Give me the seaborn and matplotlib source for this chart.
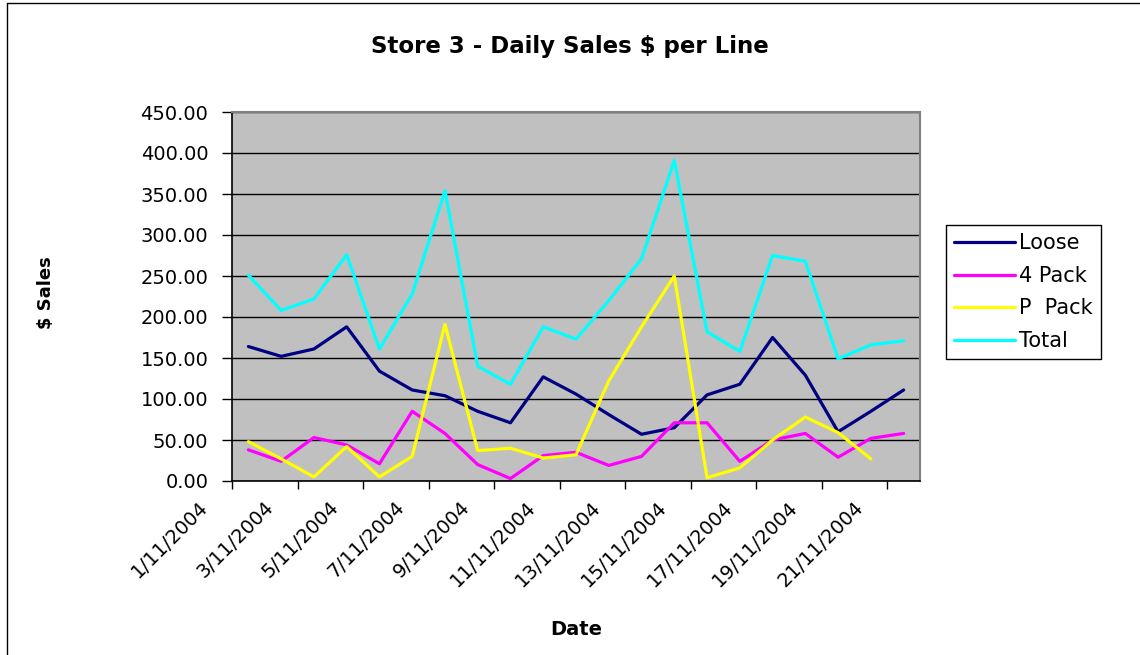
import numpy as np
import pandas as pd
import matplotlib
matplotlib.use("Agg")
import matplotlib.pyplot as plt
import matplotlib.transforms as mtransforms
from matplotlib.lines import Line2D
import seaborn as sns

# daily sales for store 3, November 2004
dates = ["%d/11/2004" % d for d in range(1, 22)]
loose = [164, 152, 161, 188, 134, 111, 104, 85, 71, 127, 106, 81, 57, 65, 105, 118, 175, 129, 60, 85, 111]
four_pack = [38, 24, 53, 44, 21, 85, 58, 20, 3, 31, 35, 19, 30, 71, 71, 24, 50, 58, 29, 52, 58]
p_pack = [48, 27, 5, 42, 5, 30, 191, 37, 40, 28, 32, 122, 188, 250, 4, 16, 50, 78, 59, 27, np.nan]
total = [251, 208, 222, 276, 161, 228, 354, 140, 118, 188, 173, 220, 271, 391, 182, 158, 275, 268, 149, 166, 171]

series_names = ["Loose", "4 Pack", "P  Pack", "Total"]
line_colors = ["#000080", "#FF00FF", "#FFFF00", "#00FFFF"]
y_ticks = [0, 50, 100, 150, 200, 250, 300, 350, 400, 450]


def main():
    rows = []
    for name, vals in zip(series_names, [loose, four_pack, p_pack, total]):
        for i, v in enumerate(vals):
            rows.append({"day": i, "date": dates[i], "series": name, "sales": v})
    df = pd.DataFrame(rows).dropna()

    sns.set_style("ticks")
    plt.rcParams["font.family"] = ["DejaVu Sans"]
    plt.rcParams["text.color"] = "black"
    plt.rcParams["axes.labelcolor"] = "black"
    plt.rcParams["xtick.color"] = "black"
    plt.rcParams["ytick.color"] = "black"

    W, H = 1140, 655
    fig = plt.figure(figsize=(W / 100, H / 100), dpi=100)
    ax = fig.add_axes([232 / W, 1 - 481 / H, (920 - 232) / W, (481 - 112) / H])
    ax.set_facecolor("#C0C0C0")

    sns.lineplot(data=df, x="day", y="sales", hue="series", hue_order=series_names,
                 palette=dict(zip(series_names, line_colors)), estimator=None,
                 errorbar=None, linewidth=2.3, ax=ax)

    # axes limits and ticks, excel style
    ax.set_xlim(-0.5, len(dates) - 0.5)
    ax.set_ylim(0, 450)
    ax.set_yticks(y_ticks)
    ax.set_yticklabels(["%.2f" % t for t in y_ticks], fontsize=14)
    ax.tick_params(axis="y", direction="out", length=7, width=1, color="black", pad=10)

    ax.set_xticks(np.arange(-0.5, len(dates) - 1, 2))
    ax.set_xticklabels([])
    ax.tick_params(axis="x", which="major", direction="out", length=6, width=1, color="black")
    ax.set_xticks(np.arange(0, len(dates), 2), minor=True)
    ax.set_xticklabels(dates[::2], minor=True, rotation=45, ha="right",
                       rotation_mode="anchor", fontsize=14)
    ax.tick_params(axis="x", which="minor", length=0, pad=12)
    shift = mtransforms.ScaledTranslation(-0.5, 0, fig.dpi_scale_trans)
    for lbl in ax.get_xticklabels(minor=True):
        lbl.set_transform(lbl.get_transform() + shift)

    ax.yaxis.grid(True, color="black", linewidth=1)
    ax.xaxis.grid(False)
    for side in ["top", "right"]:
        ax.spines[side].set_color("#808080")
        ax.spines[side].set_linewidth(1.5)
    for side in ["left", "bottom"]:
        ax.spines[side].set_color("black")
        ax.spines[side].set_linewidth(1.2)

    ax.set_xlabel("Date", fontsize=14, fontweight="bold")
    ax.xaxis.set_label_coords(0.5, -0.377)
    ax.set_ylabel("$ Sales", fontsize=13, fontweight="bold")
    ax.yaxis.set_label_coords(-0.257, 0.51)

    fig.suptitle("Store 3 - Daily Sales $ per Line", x=0.5, y=1 - 35 / H,
                 fontsize=16.5, fontweight="bold", va="top")

    handles, labels = ax.get_legend_handles_labels()
    ax.legend(handles, labels, loc="upper left", bbox_to_anchor=(946 / W, 1 - 225 / H),
              bbox_transform=fig.transFigure, frameon=True, fancybox=False,
              edgecolor="black", framealpha=1, fontsize=15, handlelength=2.9,
              handletextpad=0.2, labelspacing=0.6, borderpad=0.4, borderaxespad=0)
    ax.get_legend().get_frame().set_linewidth(1)

    # chart area border (left and top only visible)
    fig.add_artist(Line2D([7 / W, 7 / W], [0, 1 - 3 / H], transform=fig.transFigure,
                          color="black", linewidth=1))
    fig.add_artist(Line2D([7 / W, 1], [1 - 3 / H, 1 - 3 / H], transform=fig.transFigure,
                          color="black", linewidth=1))

    plt.savefig("out.png", dpi=100)


if __name__ == "__main__":
    main()
